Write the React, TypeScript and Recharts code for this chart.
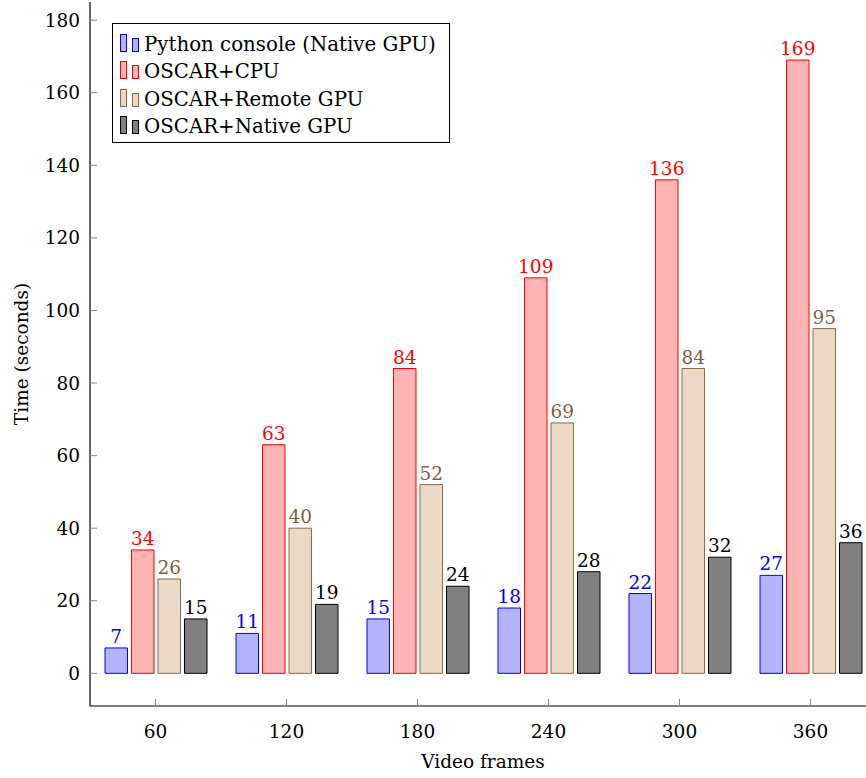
import React from 'react';
import {
  BarChart,
  Bar,
  XAxis,
  YAxis,
  Legend,
  LabelList,
  Label
} from 'recharts';

const categories = ['60', '120', '180', '240', '300', '360'];
const pythonNative = [7, 11, 15, 18, 22, 27];
const oscarCpu = [34, 63, 84, 109, 136, 169];
const oscarRemote = [26, 40, 52, 69, 84, 95];
const oscarNative = [15, 19, 24, 28, 32, 36];
const yTicks = [0, 20, 40, 60, 80, 100, 120, 140, 160, 180];

const FONT = '"DejaVu Serif", serif';
const FS = 18.5;
const TICK_LEN = 7;

const series = [
  { key: 'python', name: 'Python console (Native GPU)', fill: '#b3b3ff', stroke: '#0000ff', label: '#0000ff' },
  { key: 'cpu', name: 'OSCAR+CPU', fill: '#ffb3b3', stroke: '#ff0000', label: '#ff0000' },
  { key: 'remote', name: 'OSCAR+Remote GPU', fill: '#ebd9c6', stroke: '#8a6a48', label: '#7f5f3f' },
  { key: 'native', name: 'OSCAR+Native GPU', fill: '#808080', stroke: '#000000', label: '#000000' }
];

const data = categories.map((c, i) => ({
  frames: c,
  python: pythonNative[i],
  cpu: oscarCpu[i],
  remote: oscarRemote[i],
  native: oscarNative[i]
}));

const LeftTick = ({ x, y, payload }: any) => (
  <g>
    <line x1={x} y1={y} x2={x + TICK_LEN} y2={y} stroke="#888" />
    <text x={x - 10} y={y} dy="0.35em" textAnchor="end" fontFamily={FONT} fontSize={FS} fill="#000">
      {payload.value}
    </text>
  </g>
);

const RightTick = ({ x, y }: any) => (
  <line x1={x} y1={y} x2={x - TICK_LEN} y2={y} stroke="#888" />
);

const BottomTick = ({ x, y, payload }: any) => (
  <g>
    <line x1={x} y1={y} x2={x} y2={y - TICK_LEN} stroke="#888" />
    <text x={x} y={y + 32} textAnchor="middle" fontFamily={FONT} fontSize={FS} fill="#000">
      {payload.value}
    </text>
  </g>
);

const TopTick = ({ x, y }: any) => (
  <line x1={x} y1={y} x2={x} y2={y + TICK_LEN} stroke="#888" />
);

const LegendBox = () => (
  <div
    style={{
      border: '1px solid #000',
      background: '#fff',
      width: 329,
      height: 118,
      boxSizing: 'content-box',
      padding: '0 0 0 7px'
    }}
  >
    {series.map((s) => (
      <div key={s.key} style={{ display: 'flex', alignItems: 'flex-end', height: 27.6 }}>
        <div style={{ width: 5, height: 16, background: s.fill, border: `1px solid ${s.stroke}`, marginRight: 5 }} />
        <div style={{ width: 5, height: 12, background: s.fill, border: `1px solid ${s.stroke}`, marginRight: 5 }} />
        <span style={{ fontFamily: FONT, fontSize: 19.8, lineHeight: '20px', color: '#000', marginBottom: -3 }}>
          {s.name}
        </span>
      </div>
    ))}
  </div>
);

const YTitle = ({ viewBox }: any) => {
  const cx = viewBox.x + 22;
  const cy = viewBox.y + viewBox.height / 2;
  return (
    <text
      x={cx}
      y={cy}
      transform={`rotate(-90, ${cx}, ${cy})`}
      textAnchor="middle"
      dy="0.35em"
      fontFamily={FONT}
      fontSize={FS}
      fill="#000"
    >
      Time (seconds)
    </text>
  );
};

const XTitle = ({ viewBox }: any) => (
  <text
    x={viewBox.x + viewBox.width / 2}
    y={viewBox.y + 62}
    textAnchor="middle"
    fontFamily={FONT}
    fontSize={FS}
    fill="#000"
  >
    Video frames
  </text>
);

export default function App() {
  return (
    <div style={{ position: 'absolute', left: 0, top: 0, width: 866, height: 778, overflow: 'hidden', background: '#fff' }}>
      <BarChart
        width={890}
        height={778}
        data={data}
        margin={{ top: 2, right: 14, left: 0, bottom: 0 }}
        barSize={22.5}
        barGap={4}
      >
        <XAxis
          dataKey="frames"
          xAxisId="bottom"
          orientation="bottom"
          height={72}
          tickSize={0}
          tickMargin={0}
          tickLine={false}
          tick={<BottomTick />}
          axisLine={{ stroke: '#000', strokeWidth: 1.2 }}
          interval={0}
        >
          <Label content={<XTitle />} />
        </XAxis>
        <XAxis
          dataKey="frames"
          xAxisId="top"
          orientation="top"
          height={0}
          tickSize={0}
          tickMargin={0}
          tickLine={false}
          tick={<TopTick />}
          axisLine={{ stroke: '#000', strokeWidth: 1.2 }}
          interval={0}
        />
        <YAxis
          yAxisId="left"
          orientation="left"
          width={90}
          domain={[-9, 185]}
          ticks={yTicks}
          type="number"
          allowDataOverflow
          tickSize={0}
          tickMargin={0}
          tickLine={false}
          tick={<LeftTick />}
          axisLine={{ stroke: '#000', strokeWidth: 1.2 }}
        >
          <Label content={<YTitle />} />
        </YAxis>
        <YAxis
          yAxisId="right"
          orientation="right"
          width={0}
          domain={[-9, 185]}
          ticks={yTicks}
          type="number"
          allowDataOverflow
          tickSize={0}
          tickMargin={0}
          tickLine={false}
          tick={<RightTick />}
          axisLine={{ stroke: '#000', strokeWidth: 1.2 }}
        />
        <Legend
          layout="vertical"
          align="center"
          verticalAlign="middle"
          content={<LegendBox />}
          wrapperStyle={{ position: 'absolute', left: 112, top: 23, width: 'auto' }}
        />
        {series.map((s) => (
          <Bar
            key={s.key}
            dataKey={s.key}
            name={s.name}
            xAxisId="bottom"
            yAxisId="left"
            fill={s.fill}
            stroke={s.stroke}
            strokeWidth={1}
            isAnimationActive={false}
          >
            <LabelList
              dataKey={s.key}
              position="top"
              offset={5}
              fill={s.label}
              stroke="none"
              fontFamily={FONT}
              fontSize={FS}
            />
          </Bar>
        ))}
      </BarChart>
    </div>
  );
}
